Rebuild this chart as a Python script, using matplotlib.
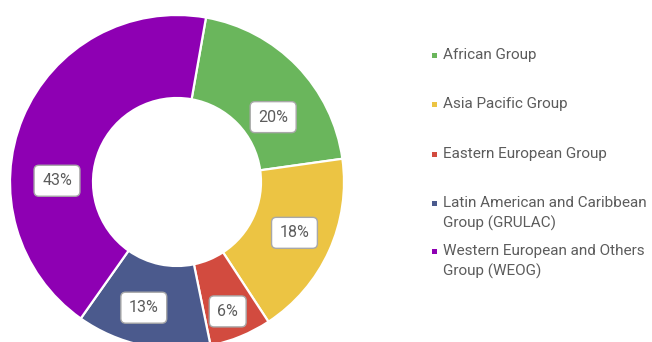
import numpy as np
import matplotlib.pyplot as plt

groups = ["African Group", "Asia Pacific Group", "Eastern European Group",
          "Latin American and Caribbean\nGroup (GRULAC)",
          "Western European and Others\nGroup (WEOG)"]
shares = [20, 18, 6, 13, 43]
colors = ["#6ab65c", "#ecc443", "#d24b3f", "#4b5a8d", "#8e00b3"]

# label placement: angle shift from the wedge middle (deg) and distance from centre (px)
lbl_shift = [10, -1, 1, 3, -22]
lbl_rad = [116, 128, 139, 130, 120]

W, H = 652, 342
cx, cy, R = 177, H - 182, 167
txt_col = "#5c5c5c"

plt.rcParams["font.family"] = ["Roboto", "DejaVu Sans"]

fig = plt.figure(figsize=(W / 100, H / 100), dpi=100)
ax = fig.add_axes([0, 0, 1, 1])

wedges, _ = ax.pie(shares, colors=colors, startangle=80, counterclock=False,
                   center=(cx, cy), radius=R,
                   wedgeprops=dict(width=83, edgecolor="white", linewidth=1.6))

for w, v, dth, r in zip(wedges, shares, lbl_shift, lbl_rad):
    mid = np.deg2rad((w.theta1 + w.theta2) / 2 - dth)
    ax.text(cx + r * np.cos(mid), cy + r * np.sin(mid), f"{v}%",
            ha="center", va="center", fontsize=11.5, color=txt_col,
            bbox=dict(boxstyle="round,pad=0.5,rounding_size=0.3",
                      fc="white", ec="#a8a8a8", lw=1.0))

# legend drawn by hand
leg_y = [55, 104, 154, 203, 251]
for name, c, y in zip(groups, colors, leg_y):
    ax.add_patch(plt.Rectangle((431.5, H - y - 2.5), 5, 5, color=c, lw=0))
    for i, line in enumerate(name.split("\n")):
        ax.text(443, H - y - i * 20, line, ha="left", va="center",
                fontsize=11, color=txt_col)

ax.set_xlim(0, W)
ax.set_ylim(0, H)
ax.set_aspect("equal")
ax.axis("off")

fig.savefig("out.png", dpi=100)
